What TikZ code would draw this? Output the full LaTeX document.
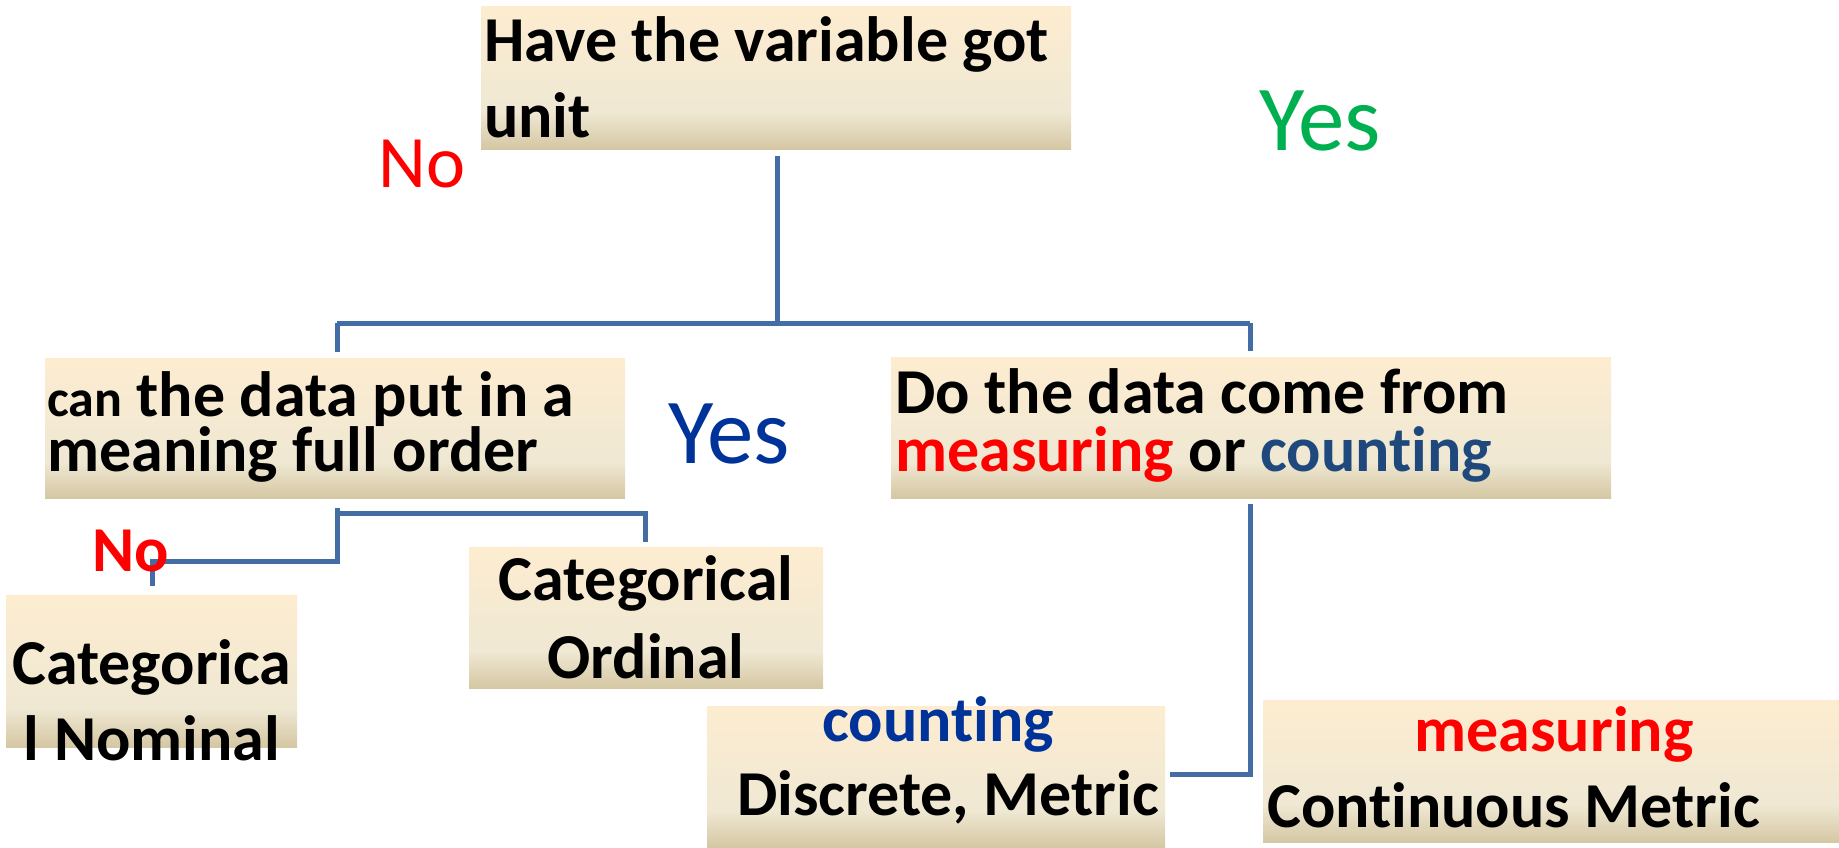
\documentclass[tikz,border=0pt]{standalone}
\usepackage{fontspec}
\setmainfont[Ligatures={NoCommon,NoContextual}]{Carlito}
\definecolor{boxtop}{RGB}{253,236,208}
\definecolor{boxmid}{RGB}{239,232,211}
\definecolor{boxbot}{RGB}{213,199,163}
\definecolor{linkblue}{RGB}{66,110,165}
\definecolor{yesgreen}{RGB}{0,176,80}
\definecolor{darkred}{RGB}{255,0,0}
\definecolor{deepblue}{RGB}{0,51,153}
\definecolor{textblue}{RGB}{31,73,125}
% parchment fill: peach at the top, cream lower down, tan strip at the bottom
\pgfdeclareverticalshading{parchment}{100bp}{color(0bp)=(boxbot); color(25bp)=(boxbot);
  color(38bp)=(boxmid); color(75bp)=(boxtop); color(100bp)=(boxtop)}
\tikzset{
  box/.style={anchor=north west, inner sep=0pt, outer sep=0pt,
    shading=parchment, draw=none},
  txt/.style={inner sep=0pt, font=\bfseries\fontsize{64}{76}\selectfont},
  conn/.style={draw=linkblue, line width=5pt},
  bigword/.style={inner sep=0pt, font=\fontsize{93}{100}\selectfont},
}
\begin{document}
\begin{tikzpicture}[x=1pt,y=-1pt]
\useasboundingbox (0,0) rectangle (1839,847);

% question boxes
\node[box, minimum width=590pt, minimum height=143pt] (q1) at (481,6) {};
\node[box, minimum width=580pt, minimum height=140pt] (q2) at (45,358) {};
\node[box, minimum width=720pt, minimum height=141pt] (q3) at (891,357) {};
% result boxes
\node[box, minimum width=291pt, minimum height=152pt] (r1) at (6,595) {};
\node[box, minimum width=354pt, minimum height=141pt] (r2) at (469,547) {};
\node[box, minimum width=458pt, minimum height=141pt] (r3) at (707,706) {};
\node[box, minimum width=576pt, minimum height=142pt] (r4) at (1263,700) {};

% texts
\node[txt, anchor=base west] (q1a) at (484,61) {Have the variable got};
\node[txt, anchor=base west] (q1b) at (484,137) {unit};
\node[txt, anchor=base west] (q2a) at (47,416) {{\fontsize{52}{56}\selectfont can} the data put in a};
\node[txt, anchor=base west] (q2b) at (47,471) {meaning full order};
\node[txt, anchor=base west] (q3a) at (895,413) {Do the data come from};
\node[txt, anchor=base west] (q3b) at (895,471) {\textcolor{darkred}{measuring} or \textcolor{textblue}{counting}};
\node[txt, anchor=base] (r1a) at (152,684) {Categorica};
\node[txt, anchor=base] (r1b) at (152,760) {l Nominal};
\node[txt, anchor=base] (r2a) at (646,600) {Categorical};
\node[txt, anchor=base] (r2b) at (646,678) {Ordinal};
\node[txt, anchor=base, text=deepblue] (r3a) at (938,741) {counting};
\node[txt, anchor=base west] (r3b) at (737,815) {Discrete, Metric};
\node[txt, anchor=base, text=darkred] (r4a) at (1554,751) {measuring};
\node[txt, anchor=base west] (r4b) at (1267,827) {Continuous Metric};

% answer labels
\node[bigword, text=darkred, font=\fontsize{74}{80}\selectfont] (no1) at (422,164) {No};
\node[bigword, text=yesgreen] (yes1) at (1320,121) {Yes};
\node[bigword, text=deepblue] (yes2) at (729,434) {Yes};

% connectors
\coordinate (j1) at (777,323);
\coordinate (jl) at (337,323);
\coordinate (jr) at (1250,323);
\draw[conn] ([yshift=-7pt]q1.south -| j1) -- (j1);
\draw[conn] (jl) -- (jr);
\draw[conn] (jl) -- ([yshift=6pt]q2.north -| jl);
\draw[conn] (jr) -- ([yshift=6pt]q3.north -| jr);

\coordinate (k1) at (337,561);
\coordinate (k2) at (337,513);
\coordinate (k3) at (645,513);
\draw[conn] ([yshift=-10pt]q2.south -| k1) -- (k1) -- (152,561) coordinate (k4) -- ([yshift=9pt]r1.north -| k4);
\draw[conn] (k2) -- (k3) -- ([yshift=5pt]r2.north -| k3);

\node[txt, text=darkred, font=\bfseries\fontsize{64}{66}\selectfont] (no2) at (131,551) {No};

\coordinate (m1) at (1250,774);
\draw[conn] ([yshift=-6pt]q3.south -| m1) -- (m1) -- ([xshift=5pt]r3.east |- m1);
\end{tikzpicture}
\end{document}
